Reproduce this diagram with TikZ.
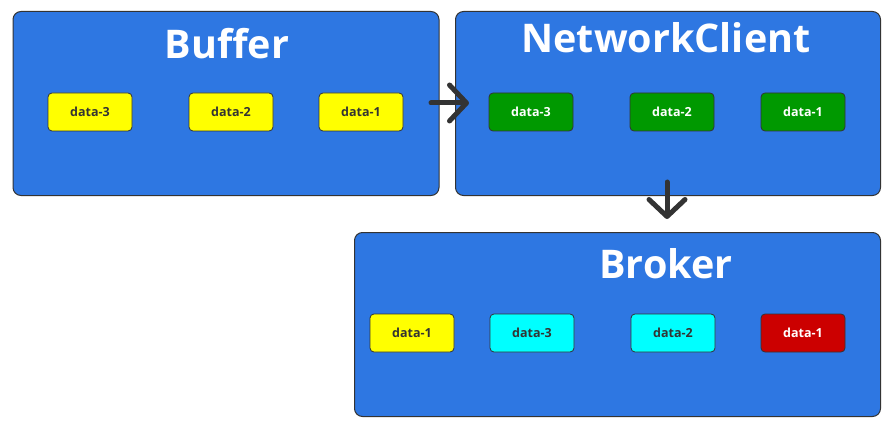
\documentclass[tikz,border=0pt]{standalone}
\usepackage{fontspec}
\setmainfont{Open Sans}
\usetikzlibrary{arrows.meta}
\definecolor{panelblue}{HTML}{2E77E2}
\definecolor{edge}{HTML}{333333}
\definecolor{ylw}{HTML}{FFFF00}
\definecolor{grn}{HTML}{009900}
\definecolor{cyn}{HTML}{00FFFF}
\definecolor{rd}{HTML}{CC0000}
\tikzset{
  panel/.style={draw=edge, line width=1pt, fill=panelblue, rounded corners=8pt, anchor=north west, inner sep=0pt},
  ptitle/.style={text=white, font=\fontsize{39.5}{40}\selectfont\bfseries, inner sep=0pt},
  chip/.style={draw=edge, line width=0.8pt, rounded corners=4pt, minimum width=84pt, minimum height=38pt, inner sep=0pt, font=\fontsize{12.5}{13}\selectfont\bfseries},
  ychip/.style={chip, fill=ylw, text=edge},
  gchip/.style={chip, fill=grn, text=white},
  cchip/.style={chip, fill=cyn, text=edge},
  rchip/.style={chip, fill=rd, text=white},
  flow/.style={draw=edge, line width=5pt, line cap=round, -{Straight Barb[length=17pt,width=36pt,line width=5pt,round]}}
}
\begin{document}
\begin{tikzpicture}[x=1pt,y=-1pt]
\useasboundingbox (0,0) rectangle (888,422);
\node[panel, minimum width=426pt, minimum height=184pt] (buf) at (12.5,11) {};
\node[panel, minimum width=425pt, minimum height=184pt] (net) at (455,11) {};
\node[panel, minimum width=526pt, minimum height=184pt] (brk) at (354,232) {};
\node[ptitle] (tbuf) at (227,44) {Buffer};
\node[ptitle] (tnet) at (666,38) {NetworkClient};
\node[ptitle] (tbrk) at (666,264) {Broker};
\node[ychip] (b3) at (90,112) {data-3};
\node[ychip] (b2) at (231,112) {data-2};
\node[ychip] (b1) at (361,112) {data-1};
\node[gchip] (n3) at (531,112) {data-3};
\node[gchip] (n2) at (672,112) {data-2};
\node[gchip] (n1) at (803,112) {data-1};
\node[ychip] (k1) at (412,333) {data-1};
\node[cchip] (k3) at (532,333) {data-3};
\node[cchip] (k2) at (673,333) {data-2};
\node[rchip] (k0) at (803,333) {data-1};
\coordinate (a1s) at (431,103);
\coordinate (a1e) at (469,103);
\coordinate (a2s) at (667,182);
\coordinate (a2e) at (667,219);
\draw[flow] (a1s) -- (a1e);
\draw[flow] (a2s) -- (a2e);
\end{tikzpicture}
\end{document}
